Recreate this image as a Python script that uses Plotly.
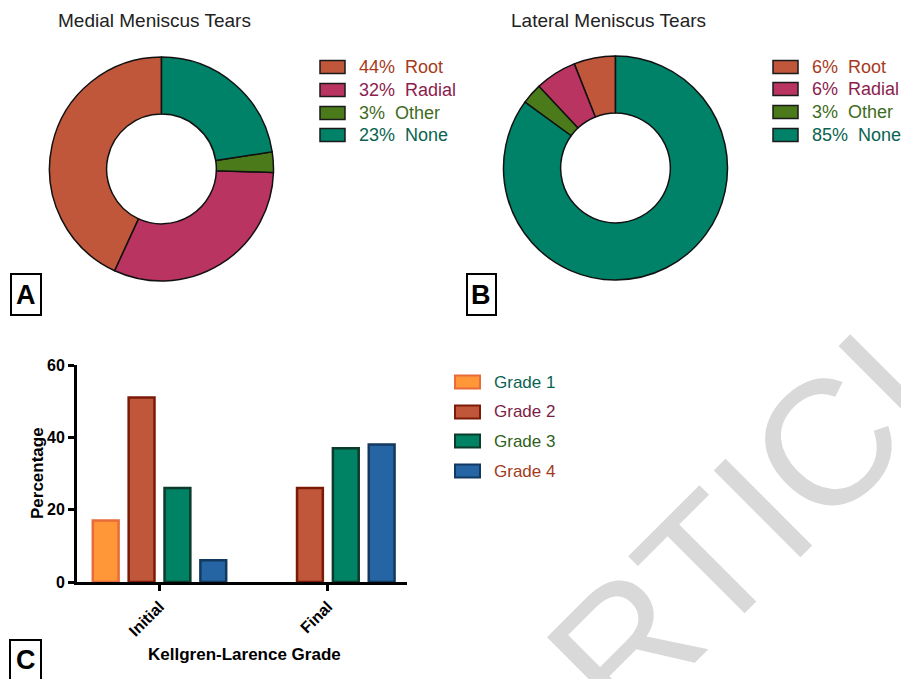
import plotly.graph_objects as go

W, H = 901, 679

def px(x):
    return x / W

def py(y):
    return 1 - y / H

# ---- data -------------------------------------------------------------
tear_types = ["Root", "Radial", "Other", "None"]
medial_pct = [44, 32, 3, 23]
lateral_pct = [6, 6, 3, 85]

stages = ["Initial", "Final"]
grades = ["Grade 1", "Grade 2", "Grade 3", "Grade 4"]
grade_pct = {
    "Grade 1": [17, 0],
    "Grade 2": [51, 26],
    "Grade 3": [26, 37],
    "Grade 4": [6, 38],
}
y_ticks = [0, 20, 40, 60]

# ---- styles -----------------------------------------------------------
tear_fill = ["#c0573a", "#b93460", "#4b7a1b", "#008268"]
tear_text = ["#a63b1c", "#8c1d4e", "#3f6b1e", "#0a6350"]
grade_fill = ["#ff9638", "#c0573a", "#008265", "#2565a3"]
grade_line = ["#e86b3a", "#7c1a08", "#0b3b2a", "#12395f"]
grade_text = ["#0b6352", "#7d1c45", "#2f5f1c", "#a33a1c"]
FONT = "Arial, Liberation Sans, sans-serif"

fig = go.Figure()

# ---- donut charts -----------------------------------------------------
def donut(values, x0, x1, y0, y1):
    # plotly places the first counter-clockwise slice to the right of 12 o'clock;
    # rotate back so the first slice starts at 12 o'clock and runs anticlockwise
    first_angle = 360.0 * values[0] / sum(values)
    fig.add_trace(go.Pie(
        labels=tear_types, values=values, sort=False,
        direction="counterclockwise", rotation=-first_angle, hole=0.49,
        marker=dict(colors=tear_fill, line=dict(color="#111111", width=1.5)),
        textinfo="none", hoverinfo="label+percent", showlegend=False,
        domain=dict(x=[px(x0), px(x1)], y=[py(y1), py(y0)]),
    ))

donut(medial_pct, 49, 274, 57, 281)
donut(lateral_pct, 503, 728, 56, 280)

# ---- grouped bars -----------------------------------------------------
for i, g in enumerate(grades):
    # a 0 % group has no bar at all (no outline sitting on the axis)
    heights = [v if v > 0 else None for v in grade_pct[g]]
    fig.add_trace(go.Bar(
        x=stages, y=heights, name=g, showlegend=False,
        marker=dict(color=grade_fill[i], line=dict(color=grade_line[i], width=2.5)),
    ))

fig.update_layout(
    width=W, height=H, margin=dict(l=0, r=0, t=0, b=0, pad=0, autoexpand=False),
    paper_bgcolor="white", plot_bgcolor="white",
    font=dict(family=FONT, color="black"),
    barmode="group", bargap=0.148, bargroupgap=0.28,
    xaxis=dict(
        domain=[px(77), px(407)], range=[-0.49, 1.47], automargin=False,
        showline=True, linecolor="black", linewidth=3,
        ticks="outside", ticklen=6, tickwidth=3, tickcolor="black",
        tickangle=-45, showgrid=False, zeroline=False,
        tickfont=dict(size=16, weight="bold", color="black"),
    ),
    yaxis=dict(
        domain=[py(582), py(365)], range=[0, 60], automargin=False,
        tickvals=y_ticks,
        showline=True, linecolor="black", linewidth=3,
        ticks="outside", ticklen=6, tickwidth=3, tickcolor="black",
        showgrid=False, zeroline=False,
        tickfont=dict(size=16, weight="bold", color="black"),
    ),
)

annotations = []
shapes = []

def label(x, y, text, size, color="black", weight="normal", angle=0, xanchor="center"):
    annotations.append(dict(x=px(x), y=py(y), xref="paper", yref="paper",
                            xanchor=xanchor, yanchor="middle", text=text,
                            textangle=angle, showarrow=False,
                            font=dict(size=size, color=color, weight=weight)))

# axis titles
label(37, 473, "Percentage", 17, weight="bold", angle=-90)
label(244, 654, "Kellgren-Larence Grade", 17, weight="bold")

# donut titles
label(154, 20, "Medial Meniscus Tears", 19, color="#222222")
label(608, 20, "Lateral Meniscus Tears", 19, color="#222222")

# legends drawn as swatches + coloured labels
def legend_row(xs, yc, fill, edge, edge_w, text, color, size):
    shapes.append(dict(type="rect", xref="paper", yref="paper",
                       x0=px(xs), x1=px(xs + 25), y0=py(yc + 6.5), y1=py(yc - 6.5),
                       fillcolor=fill, line=dict(color=edge, width=edge_w)))
    label(xs + 37, yc, text, size, color=color, xanchor="left")

for i, t in enumerate(tear_types):
    legend_row(320, [67, 90, 113, 135][i], tear_fill[i], "#1a1a1a", 1.5,
               f"{medial_pct[i]}%\u00a0 {t}", tear_text[i], 18)
    legend_row(773, [67, 89, 112, 135][i], tear_fill[i], "#1a1a1a", 1.5,
               f"{lateral_pct[i]}%\u00a0 {t}", tear_text[i], 18)

for i, g in enumerate(grades):
    legend_row(455, [382, 412, 441, 471][i], grade_fill[i], grade_line[i], 2,
               g, grade_text[i], 17)

# panel letters in boxes
for letter, (x0, y0, x1, y1, yc) in {"A": (11, 274, 41, 315, 295),
                                     "B": (467, 274, 496, 315, 295),
                                     "C": (10, 640, 41, 684, 660)}.items():
    shapes.append(dict(type="rect", xref="paper", yref="paper",
                       x0=px(x0), x1=px(x1), y0=py(y1), y1=py(y0),
                       line=dict(color="black", width=2), fillcolor="rgba(0,0,0,0)"))
    label((x0 + x1) / 2, yc, letter, 27, weight="bold")

# diagonal watermark
annotations.append(dict(x=px(760), y=py(510), xref="paper", yref="paper",
                        text="ARTICLE", textangle=-45, showarrow=False,
                        xanchor="center", yanchor="middle",
                        font=dict(size=178, color="#d9d9d9", family=FONT)))

fig.update_layout(annotations=annotations, shapes=shapes)
fig.write_html("out.html")
